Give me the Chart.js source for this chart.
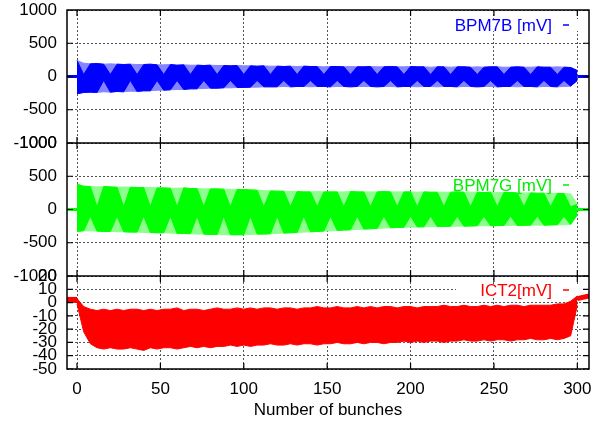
<!DOCTYPE html>
<html lang="en">
<head>
<meta charset="UTF-8">
<title>BPM7B / BPM7G / ICT2 along the bunch train</title>
<script src="https://cdn.jsdelivr.net/npm/chart.js@4.4.0/dist/chart.umd.min.js"></script>
<style>
  body { margin: 0; background: #fff; }
  #wrap { width: 605px; height: 424px; }
</style>
</head>
<body>
<div id="wrap"><canvas id="bunchChart" width="605" height="424"></canvas></div>
<script>
// sample positions along the train (every 4th bunch)
const bunchGrid = [
  0, 4, 8, 12, 16, 20, 24, 28, 32, 36,
  40, 44, 48, 52, 56, 60, 64, 68, 72, 76,
  80, 84, 88, 92, 96, 100, 104, 108, 112, 116,
  120, 124, 128, 132, 136, 140, 144, 148, 152, 156,
  160, 164, 168, 172, 176, 180, 184, 188, 192, 196,
  200, 204, 208, 212, 216, 220, 224, 228, 232, 236,
  240, 244, 248, 252, 256, 260, 264, 268, 272, 276,
  280, 284, 288, 292, 296, 300
];
const xTicks = [0, 50, 100, 150, 200, 250, 300];
const bpmTicks = [-1000, -500, 0, 500, 1000];
const ictTicks = [-50, -40, -30, -20, -10, 0, 10, 20];

// BPM7B [mV] envelope
const bpm7bHigh = [
  240, 200, 190, 195, 185, 190, 185, 180, 185, 180,
  180, 185, 175, 175, 180, 170, 175, 170, 170, 165,
  170, 165, 165, 160, 165, 160, 160, 155, 160, 155,
  155, 150, 155, 150, 155, 150, 150, 145, 150, 150,
  145, 150, 145, 145, 150, 145, 145, 150, 145, 145,
  150, 145, 145, 140, 145, 145, 140, 145, 145, 140,
  145, 140, 145, 145, 140, 140, 145, 140, 140, 145,
  140, 140, 145, 140, 135, 90
];
const bpm7bLow = [
  -260, -240, -235, -240, -230, -235, -225, -230, -220, -225,
  -215, -215, -205, -205, -200, -195, -195, -185, -185, -180,
  -175, -175, -170, -170, -165, -165, -160, -160, -155, -155,
  -155, -150, -155, -150, -150, -155, -150, -150, -155, -150,
  -150, -155, -150, -150, -150, -155, -150, -150, -155, -150,
  -150, -155, -150, -150, -155, -150, -150, -155, -150, -150,
  -155, -150, -150, -155, -150, -150, -155, -150, -150, -155,
  -150, -150, -155, -150, -145, -60
];
// bunches where the dense trace thins out (upper / lower side)
const bpm7bTopNotch = [4, 20, 36, 52, 68, 84, 100, 116, 132, 148, 164, 180, 196, 212, 224, 240, 256, 272, 288];
const bpm7bBotNotch = [16, 32, 48, 60, 76, 92, 108, 124, 140, 156, 172, 188, 204, 216, 232, 248, 264, 280, 292];
const bpm7bTopDepth = 30;
const bpm7bBotDepth = -60;
const bpm7bPre = [0, 0];
const bpm7bPost = [0, 0];

// BPM7G [mV] envelope
const bpm7gHigh = [
  380, 350, 345, 340, 345, 340, 335, 340, 335, 330,
  330, 335, 325, 325, 320, 320, 325, 315, 315, 310,
  310, 310, 305, 305, 300, 300, 295, 290, 285, 280,
  275, 275, 270, 270, 265, 265, 270, 265, 265, 265,
  265, 270, 265, 265, 265, 265, 270, 265, 265, 265,
  265, 260, 265, 260, 260, 260, 260, 265, 260, 260,
  260, 255, 260, 255, 255, 255, 250, 250, 250, 245,
  245, 245, 240, 240, 235, 80
];
const bpm7gLow = [
  -330, -320, -320, -325, -330, -330, -335, -335, -340, -340,
  -345, -345, -350, -350, -355, -360, -360, -365, -370, -370,
  -375, -375, -380, -380, -380, -380, -375, -370, -370, -365,
  -360, -355, -350, -345, -340, -335, -330, -325, -320, -315,
  -310, -305, -300, -295, -290, -285, -280, -275, -270, -268,
  -265, -262, -260, -258, -255, -255, -252, -250, -250, -248,
  -245, -245, -245, -242, -240, -240, -240, -238, -235, -235,
  -235, -232, -230, -230, -225, -80
];
const bpm7gTopNotch = [12, 28, 44, 60, 76, 92, 112, 128, 144, 160, 176, 192, 204, 220, 236, 252, 268, 284, 296];
const bpm7gBotNotch = [8, 24, 40, 56, 72, 88, 104, 120, 136, 152, 168, 184, 200, 212, 228, 244, 260, 276, 292];
const bpm7gTopDepth = 40;
const bpm7gBotDepth = -100;
const bpm7gPre = [0, 0];
const bpm7gPost = [0, 0];

// ICT2 [mV] envelope
const ict2High = [
  3, -3, -5, -6, -5, -6, -5, -6, -5, -5,
  -6, -5, -6, -5, -5, -4, -6, -5, -5, -6,
  -5, -4, -5, -5, -4, -5, -4, -5, -4, -4,
  -5, -4, -4, -5, -4, -4, -3, -4, -4, -3,
  -4, -4, -3, -4, -3, -4, -3, -3, -4, -3,
  -3, -4, -3, -3, -3, -2, -3, -3, -2, -3,
  -3, -2, -3, -2, -3, -2, -2, -3, -2, -2,
  -2, -2, -1, -1, 1, 5
];
const ict2Low = [
  -1, -22, -31, -34, -35, -34, -35, -35, -34, -35,
  -36, -34, -35, -34, -34, -35, -34, -33, -34, -33,
  -34, -33, -33, -32, -33, -32, -33, -32, -32, -31,
  -32, -32, -31, -32, -31, -31, -32, -31, -31, -30,
  -31, -31, -30, -31, -30, -30, -31, -30, -30, -29,
  -30, -29, -30, -29, -29, -30, -29, -29, -28, -29,
  -29, -28, -29, -28, -28, -29, -28, -28, -27, -28,
  -28, -27, -28, -27, -25, -2
];
const ict2Pre = [2, 2];
const ict2Post = [3, 5];

const preBunch = [-6, 0];
const postBunch = [300, 307];

function xy(xs, ys) {
  return xs.map((x, i) => ({ x: x, y: ys[i] }));
}
function withNotches(env, notches, depth) {
  const out = env.slice();
  notches.forEach(n => { out[bunchGrid.indexOf(n)] = depth; });
  return out;
}

const datasets = [];
function addBand(high, low, color, axis, order) {
  datasets.push({ data: xy(bunchGrid, high), yAxisID: axis, borderColor: color, borderWidth: 1,
                  pointRadius: 0, fill: false, order: order });
  datasets.push({ data: xy(bunchGrid, low), yAxisID: axis, borderColor: color, borderWidth: 1,
                  pointRadius: 0, backgroundColor: color, fill: '-1', order: order });
}
function addFlat(xs, ys, color, axis, width) {
  datasets.push({ data: xy(xs, ys), yAxisID: axis, borderColor: color, borderWidth: width,
                  pointRadius: 0, fill: false, order: 0 });
}

// dense part of each trace: light outer envelope, saturated core
addBand(withNotches(bpm7bHigh, bpm7bTopNotch, bpm7bTopDepth),
        withNotches(bpm7bLow, bpm7bBotNotch, bpm7bBotDepth), '#0000ff', 'yB', 1);
addBand(bpm7bHigh, bpm7bLow, '#8484ff', 'yB', 2);
addFlat(preBunch, bpm7bPre, '#0000ff', 'yB', 3);
addFlat(postBunch, bpm7bPost, '#0000ff', 'yB', 3);

addBand(withNotches(bpm7gHigh, bpm7gTopNotch, bpm7gTopDepth),
        withNotches(bpm7gLow, bpm7gBotNotch, bpm7gBotDepth), '#00ff00', 'yG', 1);
addBand(bpm7gHigh, bpm7gLow, '#8cff8c', 'yG', 2);
addFlat(preBunch, bpm7gPre, '#00ff00', 'yG', 3);
addFlat(postBunch, bpm7gPost, '#00ff00', 'yG', 3);

addBand(ict2High, ict2Low, '#ff0000', 'yI', 1);
addFlat(preBunch, ict2Pre, '#ff0000', 'yI', 6);
addFlat(postBunch, ict2Post, '#ff0000', 'yI', 5);

const panelKeys = [
  { axis: 'yB', text: 'BPM7B [mV]', color: '#0000ff', dy: 15 },
  { axis: 'yG', text: 'BPM7G [mV]', color: '#00ee00', dy: 42 },
  { axis: 'yI', text: 'ICT2[mV]', color: '#ff0000', dy: 14 }
];

const font = { family: '"Liberation Sans", Arial, sans-serif', size: 17 };
const gridStyle = { color: '#555', lineWidth: 1, drawTicks: false };
const borderStyle = { display: false, dash: [2, 2] };

function yScale(weight, min, max, ticks) {
  return {
    type: 'linear', position: 'left', stack: 'panels', stackWeight: weight,
    min: min, max: max,
    grid: gridStyle, border: borderStyle,
    ticks: { font: font, color: '#000', padding: 10, autoSkip: false, callback: v => String(v) },
    afterBuildTicks: s => { s.ticks = ticks.map(v => ({ value: v })); },
    afterFit: s => { s.width = 67; s.paddingTop = 0; s.paddingBottom = 0; }
  };
}

// gnuplot-like frame: panel borders, inward tick marks and per-panel keys
const framePlugin = {
  id: 'frame',
  beforeDatasetsDraw(chart) {
    const { ctx, scales } = chart;
    ctx.save();
    ctx.fillStyle = '#fff';
    panelKeys.forEach(k => {
      const y = scales[k.axis].top + k.dy;
      ctx.fillRect(456, y - 6, 125, 12);
    });
    ctx.restore();
  },
  afterDatasetsDraw(chart) {
    const { ctx, chartArea: a, scales } = chart;
    ctx.save();
    panelKeys.forEach(k => {
      const y = scales[k.axis].top + k.dy;
      ctx.font = '17px "Liberation Sans", Arial, sans-serif';
      ctx.fillStyle = k.color;
      ctx.textAlign = 'right';
      ctx.textBaseline = 'middle';
      ctx.fillText(k.text, 552, y + 1);
      ctx.strokeStyle = k.color;
      ctx.lineWidth = 1.5;
      ctx.beginPath();
      ctx.moveTo(563, y);
      ctx.lineTo(569, y);
      ctx.stroke();
    });
    ctx.strokeStyle = '#000';
    ctx.lineWidth = 1.5;
    ctx.strokeRect(a.left, a.top, a.right - a.left, a.bottom - a.top);
    const bounds = [a.top, scales.yB.bottom, scales.yG.bottom, a.bottom];
    ctx.beginPath();
    ctx.moveTo(a.left, scales.yB.bottom); ctx.lineTo(a.right, scales.yB.bottom);
    ctx.moveTo(a.left, scales.yG.bottom); ctx.lineTo(a.right, scales.yG.bottom);
    ctx.stroke();
    ctx.beginPath();
    ctx.rect(a.left, a.top, a.right - a.left, a.bottom - a.top);
    ctx.clip();
    ctx.lineWidth = 1.2;
    ctx.beginPath();
    ['yB', 'yG', 'yI'].forEach(id => {
      const s = scales[id];
      s.ticks.forEach(t => {
        const py = s.getPixelForValue(t.value);
        ctx.moveTo(a.left, py); ctx.lineTo(a.left + 6, py);
        ctx.moveTo(a.right - 6, py); ctx.lineTo(a.right, py);
      });
    });
    scales.x.ticks.forEach(t => {
      const px = scales.x.getPixelForValue(t.value);
      bounds.forEach(by => { ctx.moveTo(px, by - 6); ctx.lineTo(px, by + 6); });
    });
    ctx.stroke();
    ctx.restore();
  }
};

new Chart(document.getElementById('bunchChart'), {
  type: 'line',
  data: { datasets: datasets },
  options: {
    responsive: false,
    animation: false,
    events: [],
    layout: { padding: { top: 10, right: 16, left: 0, bottom: 0 } },
    elements: { line: { tension: 0 } },
    plugins: { legend: { display: false }, tooltip: { enabled: false } },
    scales: {
      x: {
        type: 'linear', min: -6, max: 307,
        grid: gridStyle, border: borderStyle,
        ticks: { font: font, color: '#000', padding: 10 },
        afterBuildTicks: s => { s.ticks = xTicks.map(v => ({ value: v })); },
        title: { display: true, text: 'Number of bunches', font: font, color: '#000', padding: { top: 0, bottom: 3 } },
        afterFit: s => { s.height = 55; }
      },
      // stacked axes are laid out bottom-up
      yI: yScale(93, -50, 20, ictTicks),
      yG: yScale(133, -1000, 1000, bpmTicks),
      yB: yScale(133, -1000, 1000, bpmTicks)
    }
  },
  plugins: [framePlugin]
});
</script>
</body>
</html>
